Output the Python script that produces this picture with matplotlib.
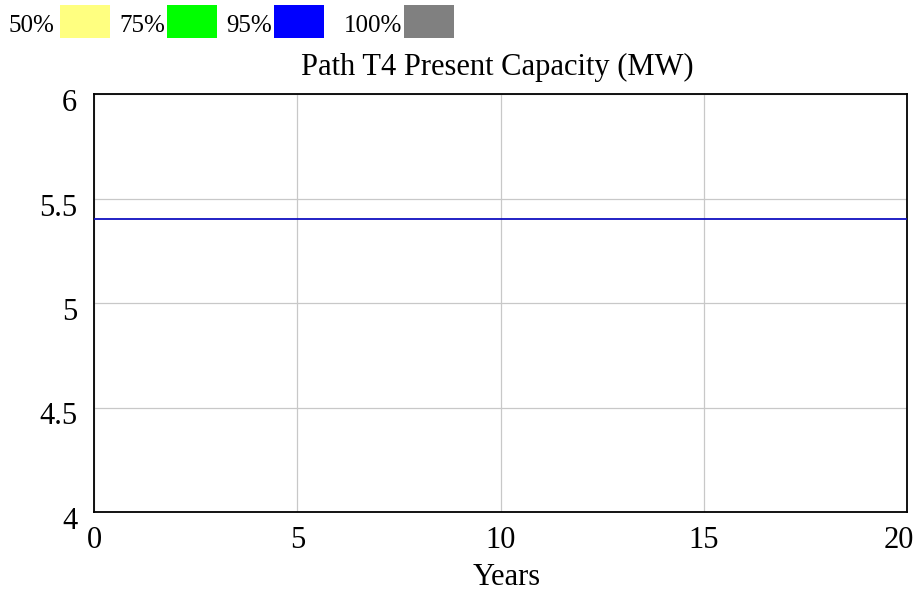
import matplotlib
matplotlib.use("Agg")
import matplotlib.pyplot as plt
import matplotlib.transforms as mtransforms
from matplotlib.patches import Rectangle

# Simulation output: capacity held constant over the run
years = [0, 20]
capacity = [5.4, 5.4]

legend_labels = ["50%", "75%", "95%", "100%"]
legend_colors = ["#ffff80", "#00ff00", "#0000ff", "#808080"]

x_ticks = [0, 5, 10, 15, 20]
y_ticks = [4, 4.5, 5, 5.5, 6]
y_tick_labels = ["4", "4.5", "5", "5.5", "6"]

plt.rcParams["font.family"] = ["Liberation Serif", "DejaVu Serif"]

fig = plt.figure(figsize=(9.19, 5.92), dpi=100)
W, H = 919, 592
ax = fig.add_axes([94 / W, 1 - 512 / H, (907 - 94) / W, (512 - 94) / H])

ax.plot(years, capacity, color="#1010c0", lw=1.3, zorder=3)

ax.set_xlim(0, 20)
ax.set_ylim(4, 6)
ax.set_xticks(x_ticks)
ax.set_yticks(y_ticks)
ax.set_yticklabels(y_tick_labels)
ax.grid(True, color="#c8c8c8", lw=0.9)
ax.tick_params(length=0, labelsize=22)
ax.tick_params(axis="x", pad=10)
ax.tick_params(axis="y", pad=12)
for sp in ax.spines.values():
    sp.set_linewidth(1.3)
    sp.set_color("black")

# shift y tick labels slightly downward
offset = mtransforms.ScaledTranslation(0, -6 / 100, fig.dpi_scale_trans)
for lbl in ax.get_yticklabels():
    lbl.set_transform(lbl.get_transform() + offset)

# keep the last x tick label inside the figure
last = ax.get_xticklabels()[-1]
last.set_transform(last.get_transform()
                   + mtransforms.ScaledTranslation(-8 / 100, 0, fig.dpi_scale_trans))

fig.text(507 / W, 1 - 585 / H, "Years", ha="center", va="baseline",
         fontsize=22)
fig.text(497 / W, 1 - 75 / H, "Path T4 Present Capacity (MW)",
         ha="center", va="baseline", fontsize=22)

# color-band legend along the top edge
text_x = [8, 119, 226, 344]
box_x = [60, 167, 274, 404]
for lab, col, tx, bx in zip(legend_labels, legend_colors, text_x, box_x):
    fig.text(tx / W, 1 - 32 / H, lab, ha="left", va="baseline", fontsize=18)
    fig.add_artist(Rectangle((bx / W, 1 - 38 / H), 50 / W, 33 / H,
                             transform=fig.transFigure, facecolor=col,
                             edgecolor="none"))

fig.savefig("out.png", dpi=100)
